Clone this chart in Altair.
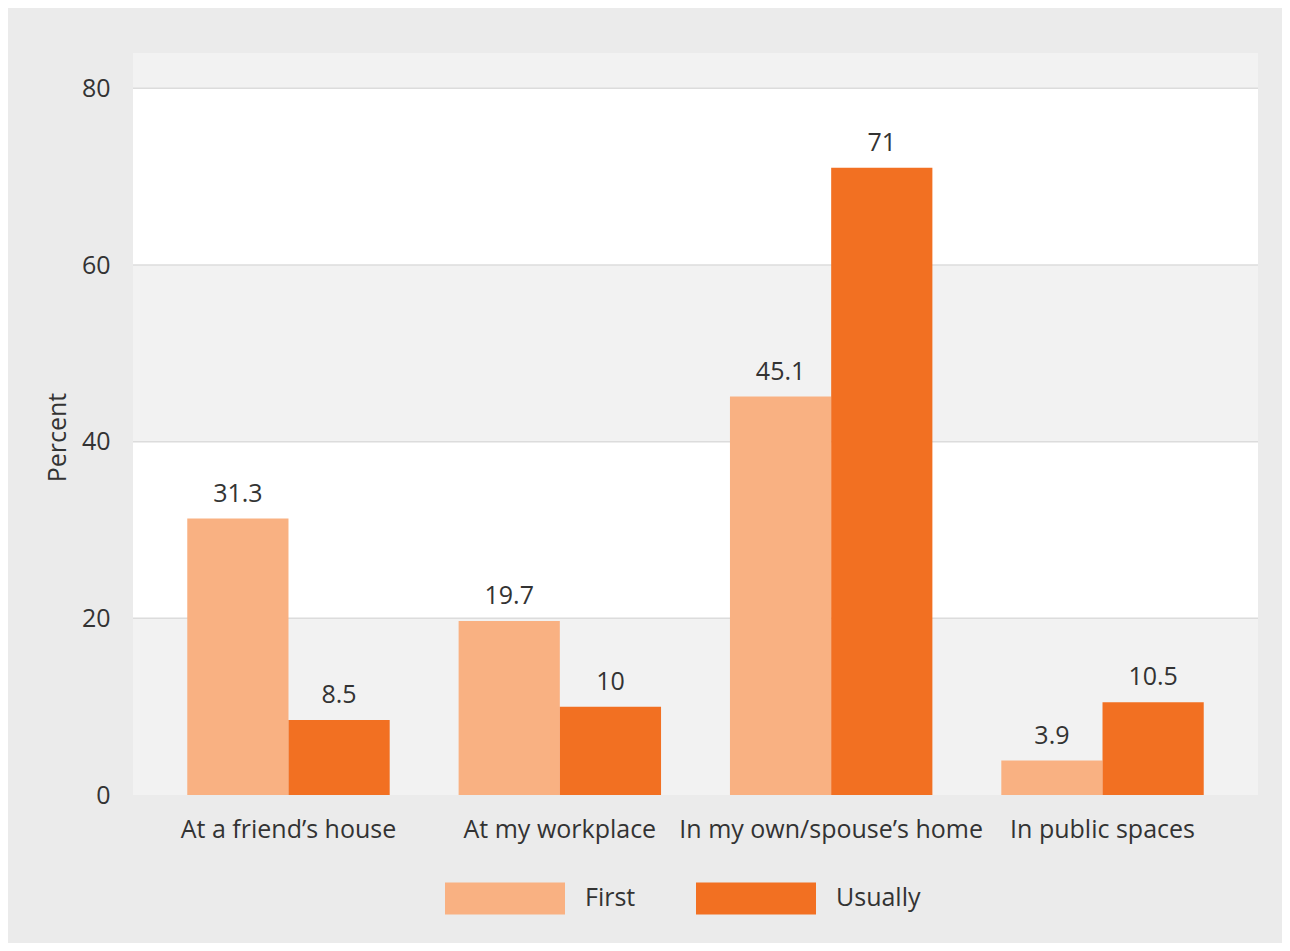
import altair as alt
import pandas as pd

categories = ["At a friend\u2019s house", "At my workplace", "In my own/spouse\u2019s home", "In public spaces"]
series = ["First", "Usually"]
first_vals = [31.3, 19.7, 45.1, 3.9]
usually_vals = [8.5, 10, 71, 10.5]
colors = ["#f9b182", "#f27022"]
y_ticks = [0, 20, 40, 60, 80]
band_lo = [20, 60]
band_hi = [40, 80]

rows = []
for c, f, u in zip(categories, first_vals, usually_vals):
    rows.append({"cat": c, "series": "First", "value": f, "label": f"{f:g}"})
    rows.append({"cat": c, "series": "Usually", "value": u, "label": f"{u:g}"})
df = pd.DataFrame(rows)
bands = pd.DataFrame({"lo": band_lo, "hi": band_hi})
grid = pd.DataFrame({"v": y_ticks[1:]})

FONT = "Open Sans"
FS = 25
yscale = alt.Scale(domain=[0, 84], nice=False, zero=True)
xscale = alt.Scale(domain=categories, paddingInner=0.254, paddingOuter=0.2)

yaxis = alt.Axis(values=y_ticks, grid=False, ticks=False, domain=False,
                 labelPadding=23, labelFontSize=FS, labelColor="#333333",
                 title="Percent", titleFontSize=FS, titleFontWeight="normal",
                 titleColor="#333333", titleX=-76, titleY=384,
                 titleAlign="center", titleBaseline="middle", titleAngle=270)
xaxis = alt.Axis(ticks=False, domain=False, labelAngle=0, labelPadding=22,
                 labelFontSize=FS, labelColor="#333333", title=None, labelLimit=0)

band_layer = alt.Chart(bands).mark_rect(color="white").encode(
    y=alt.Y("lo:Q", scale=yscale, axis=yaxis),
    y2="hi:Q",
)
grid_layer = alt.Chart(grid).mark_rule(color="#dcdcdc", strokeWidth=1.5).encode(
    y=alt.Y("v:Q", scale=yscale),
)
bars = alt.Chart(df).mark_bar().encode(
    x=alt.X("cat:N", scale=xscale, axis=xaxis, sort=categories),
    xOffset=alt.XOffset("series:N", sort=series),
    y=alt.Y("value:Q", scale=yscale),
    color=alt.Color("series:N", scale=alt.Scale(domain=series, range=colors),
                    legend=alt.Legend(orient="none", legendX=312, legendY=785,
                                      direction="horizontal", title=None,
                                      symbolType="M-1,-0.267L1,-0.267L1,0.267L-1,0.267Z",
                                      symbolSize=14400, symbolStrokeWidth=0,
                                      symbolOpacity=1, labelFontSize=FS,
                                      labelColor="#333333", labelOffset=20,
                                      columnPadding=60, padding=0)),
)
texts = alt.Chart(df).mark_text(dy=-12, fontSize=FS, color="#333333", baseline="bottom").encode(
    x=alt.X("cat:N", scale=xscale, sort=categories),
    xOffset=alt.XOffset("series:N", sort=series),
    y=alt.Y("value:Q", scale=yscale),
    text="label:N",
)

chart = alt.layer(band_layer, grid_layer, bars, texts).properties(
    width=1125, height=742,
    padding={"left": 125, "top": 45, "right": 24, "bottom": 148},
    autosize=alt.AutoSizeParams(type="none"),
    background="#ebebeb",
).configure(font=FONT).configure_view(fill="#f2f2f2", strokeWidth=0)

chart.save("out.html", embed_options={"renderer": "svg", "actions": False})
